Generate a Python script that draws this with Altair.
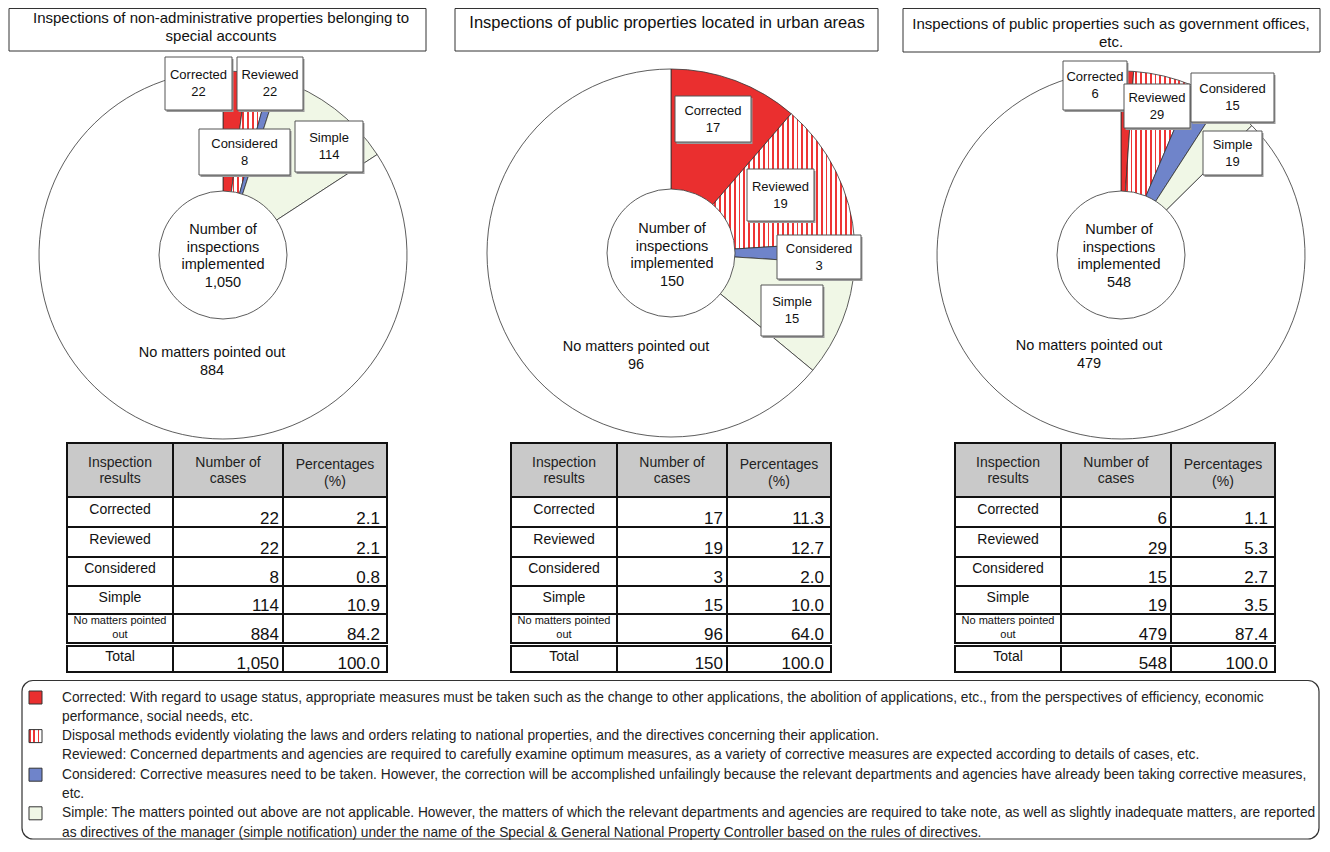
import math
import altair as alt
import pandas as pd

# ---------------- data ----------------
categories = ["Corrected", "Reviewed", "Considered", "Simple", "No matters pointed out"]
panel_titles = [
    "Inspections of non-administrative properties belonging to\nspecial accounts",
    "Inspections of public properties located in urban areas",
    "Inspections of public properties such as government offices,\netc.",
]
cases_special = [22, 22, 8, 114, 884]
cases_urban = [17, 19, 3, 15, 96]
cases_gov = [6, 29, 15, 19, 479]
pct_special = [2.1, 2.1, 0.8, 10.9, 84.2]
pct_urban = [11.3, 12.7, 2.0, 10.0, 64.0]
pct_gov = [1.1, 5.3, 2.7, 3.5, 87.4]
pct_total = 100.0
table_headers = ["Inspection\nresults", "Number of\ncases", "Percentages\n(%)"]
table_row_labels = ["Corrected", "Reviewed", "Considered", "Simple", "No matters pointed\nout", "Total"]
center_caption = "Number of\ninspections\nimplemented"
legend_lines = [
    "Corrected: With regard to usage status, appropriate measures must be taken such as the change to other applications, the abolition of applications, etc., from the perspectives of efficiency, economic",
    "performance, social needs, etc.",
    "Disposal methods evidently violating the laws and orders relating to national properties, and the directives concerning their application.",
    "Reviewed: Concerned departments and agencies are required to carefully examine optimum measures, as a variety of corrective measures are expected according to details of cases, etc.",
    "Considered: Corrective measures need to be taken. However, the correction will be accomplished unfailingly because the relevant departments and agencies have already been taking corrective measures,",
    "etc.",
    "Simple: The matters pointed out above are not applicable. However, the matters of which the relevant departments and agencies are required to take note, as well as slightly inadequate matters, are reported",
    "as directives of the manager (simple notification) under the name of the Special & General National Property Controller based on the rules of directives.",
]
legend_swatch_lines = {0: "Corrected", 2: "Reviewed", 4: "Considered", 6: "Simple"}

pie_cases = [cases_special, cases_urban, cases_gov]
pie_pcts = [pct_special, pct_urban, pct_gov]

# ---------------- layout / style ----------------
W, H = 1313, 832
XS = alt.Scale(domain=[8, 8 + W], nice=False, zero=False)
YS = alt.Scale(domain=[8, 8 + H], nice=False, zero=False, reverse=True)
FONT = "Liberation Sans, Arial, sans-serif"

PIE_CX = [223, 671, 1121]
PIE_CY = [255, 253, 255]
R_OUT = 184
R_HOLE = 64
TITLE_BOX = [(9, 426, 8.5, 51), (455, 878, 8.5, 51), (903, 1320, 8.5, 52)]
TITLE_TXT = [(221, 17.5), (667, 23), (1111, 23.5)]   # first-line positions
TITLE_SIZE = [15, 16.5, 15]
LABEL_BOX = [
    [(165, 232, 57, 110), (237, 303, 57, 110), (199, 290, 129, 175), (295, 363, 121, 172)],
    [(675, 751, 96, 142), (747, 814, 169, 221), (777, 861, 235, 279), (761, 823, 285, 336)],
    [(1063, 1127, 61, 110), (1124, 1190, 84, 128), (1191, 1274, 73, 122), (1203, 1262, 131, 175)],
]
LABEL_LH = 17
CENTER_TXT = [(223, 230), (672, 229), (1119, 230)]     # first-line positions
NOMATTER_TXT = [(212, 353), (636, 347), (1089, 346)]  # first-line positions
TABLE_LEFT = [67, 511, 955]
COL_OFF = [0, 106, 216, 320]
ROW_EDGES = [(443, 497), (497, 527), (527, 557), (557, 586), (586, 614), (614, 643), (646, 672)]

RED = "#ea2f2f"
FILL = {"Corrected": RED, "Considered": "#6f84ca", "Simple": "#f0f7e6", "No matters pointed out": "white"}


def ex(f):
    return alt.X(f + ":Q", scale=XS, axis=None)


def ey(f):
    return alt.Y(f + ":Q", scale=YS, axis=None)


def stripes(n, color="#ee3535", frac=0.38):
    stops = []
    for i in range(n):
        a, b, c = i / n, (i + frac) / n, (i + 1) / n
        stops += [
            alt.GradientStop(offset=a, color=color),
            alt.GradientStop(offset=b, color=color),
            alt.GradientStop(offset=b, color="white"),
            alt.GradientStop(offset=c, color="white"),
        ]
    return alt.LinearGradient(gradient="linear", stops=stops, x1=0, x2=1, y1=0, y2=0)


layers = []

# ---------------- title boxes ----------------
tdf = pd.DataFrame({
    "x0": [b[0] for b in TITLE_BOX], "x1": [b[1] for b in TITLE_BOX],
    "y0": [b[2] for b in TITLE_BOX], "y1": [b[3] for b in TITLE_BOX],
    "tx": [t[0] for t in TITLE_TXT], "ty": [t[1] for t in TITLE_TXT],
    "fs": TITLE_SIZE,
    "title": panel_titles,
})
layers.append(alt.Chart(tdf).mark_rect(fill="white", stroke="#333", strokeWidth=1).encode(
    x=ex("x0"), x2=alt.X2("x1:Q"), y=ey("y0"), y2=alt.Y2("y1:Q")))
layers.append(alt.Chart(tdf).mark_text(font=FONT, lineBreak="\n", lineHeight=18.5,
                                       align="center", baseline="middle", color="#111").encode(
    x=ex("tx"), y=ey("ty"), text="title:N", size=alt.Size("fs:Q", scale=None, legend=None)))

# ---------------- pies ----------------
rows = []
for p, vals in enumerate(pie_cases):
    for k, (cat, v) in enumerate(zip(categories, vals)):
        rows.append({"pie": p, "order": k, "category": cat, "value": v, "cx": PIE_CX[p], "cy": PIE_CY[p]})
pie_df = pd.DataFrame(rows)

pie_base = (
    alt.Chart(pie_df)
    .transform_joinaggregate(total="sum(value)", groupby=["pie"])
    .transform_window(cum="sum(value)", sort=[alt.SortField("order")], groupby=["pie"])
    .transform_calculate(t0="2*PI*(datum.cum-datum.value)/datum.total", t1="2*PI*datum.cum/datum.total")
)
arc_enc = dict(
    x=ex("cx"), y=ey("cy"),
    theta=alt.Theta("t0:Q", scale=None, stack=False),
    theta2=alt.Theta2("t1:Q"),
)
for cat in categories:
    if cat == "Reviewed":
        for p, vals in enumerate(pie_cases):
            ang = 2 * math.pi * (vals[0] + vals[1]) / sum(vals)
            width = R_OUT * math.sin(ang) if ang <= math.pi / 2 else R_OUT
            n = max(3, round(width / 4.8))
            layers.append(
                pie_base.transform_filter((alt.datum.category == cat) & (alt.datum.pie == p))
                .mark_arc(outerRadius=R_OUT, fill=stripes(n), stroke="#333", strokeWidth=0.8)
                .encode(**arc_enc))
    else:
        layers.append(
            pie_base.transform_filter(alt.datum.category == cat)
            .mark_arc(outerRadius=R_OUT, fill=FILL[cat], stroke="#333", strokeWidth=0.8)
            .encode(**arc_enc))

# hole + center captions
info = pd.DataFrame({
    "cx": PIE_CX, "cy": PIE_CY,
    "tx": [c[0] for c in CENTER_TXT], "ty": [c[1] for c in CENTER_TXT],
    "nx": [c[0] for c in NOMATTER_TXT], "ny": [c[1] for c in NOMATTER_TXT],
    "center": [center_caption + "\n" + f"{sum(v):,}" for v in pie_cases],
    "nomatter": [categories[4] + "\n" + f"{v[4]:,}" for v in pie_cases],
})
layers.append(alt.Chart(info).mark_arc(outerRadius=R_HOLE, innerRadius=0, theta=0, theta2=2 * math.pi,
                                       fill="white", stroke="#333", strokeWidth=0.8).encode(
    x=ex("cx"), y=ey("cy")))
layers.append(alt.Chart(info).mark_text(font=FONT, fontSize=14.5, lineBreak="\n", lineHeight=17.7,
                                        align="center", baseline="middle", color="#111").encode(
    x=ex("tx"), y=ey("ty"), text="center:N"))
layers.append(alt.Chart(info).mark_text(font=FONT, fontSize=14.5, lineBreak="\n", lineHeight=18,
                                        align="center", baseline="middle", color="#111").encode(
    x=ex("nx"), y=ey("ny"), text="nomatter:N"))

# callout boxes
lrows = []
for p, vals in enumerate(pie_cases):
    for k in range(4):
        x0, x1, y0, y1 = LABEL_BOX[p][k]
        lrows.append({"x0": x0, "x1": x1, "y0": y0, "y1": y1,
                      "sx0": x0 + 1.5, "sx1": x1 + 1.5, "sy0": y0 + 2, "sy1": y1 + 2,
                      "xc": (x0 + x1) / 2, "yc": (y0 + y1) / 2 - LABEL_LH / 2,
                      "label": f"{categories[k]}\n{vals[k]:,}"})
ldf = pd.DataFrame(lrows)
layers.append(alt.Chart(ldf).mark_rect(fill="#9a9a9a").encode(
    x=ex("sx0"), x2=alt.X2("sx1:Q"), y=ey("sy0"), y2=alt.Y2("sy1:Q")))
layers.append(alt.Chart(ldf).mark_rect(fill="white", stroke="#555", strokeWidth=1).encode(
    x=ex("x0"), x2=alt.X2("x1:Q"), y=ey("y0"), y2=alt.Y2("y1:Q")))
layers.append(alt.Chart(ldf).mark_text(font=FONT, fontSize=13, lineBreak="\n", lineHeight=LABEL_LH,
                                       align="center", baseline="middle", color="#111").encode(
    x=ex("xc"), y=ey("yc"), text="label:N"))

# ---------------- tables ----------------
cells, htxt, rtxt, rsmall, ntxt = [], [], [], [], []
for p, (vals, pcts) in enumerate(zip(pie_cases, pie_pcts)):
    left = TABLE_LEFT[p]
    counts = vals + [sum(vals)]
    percents = pcts + [pct_total]
    for r, (ya, yb) in enumerate(ROW_EDGES):
        for c in range(3):
            xa, xb = left + COL_OFF[c], left + COL_OFF[c + 1]
            cells.append({"x0": xa, "x1": xb, "y0": ya, "y1": yb, "kind": "header" if r == 0 else "body"})
        if r == 0:
            for c in range(3):
                htxt.append({"x": left + (COL_OFF[c] + COL_OFF[c + 1]) / 2,
                             "y": (ya + yb) / 2 - 7.5 + (2.5 if c == 2 else 0),
                             "t": table_headers[c]})
        else:
            lab = table_row_labels[r - 1]
            if "\n" in lab:
                rsmall.append({"x": left + COL_OFF[1] / 2, "y": (ya + yb) / 2 - 7.5, "t": lab})
            else:
                rtxt.append({"x": left + COL_OFF[1] / 2, "y": (ya + yb) / 2 - 2.5, "t": lab})
            ntxt.append({"x": left + COL_OFF[2] - 4, "y": yb - 3.5, "t": f"{counts[r - 1]:,}"})
            ntxt.append({"x": left + COL_OFF[3] - 7, "y": yb - 3.5, "t": f"{percents[r - 1]:.1f}"})

cdf = pd.DataFrame(cells)
layers.append(alt.Chart(cdf).mark_rect(stroke="#111", strokeWidth=2).encode(
    x=ex("x0"), x2=alt.X2("x1:Q"), y=ey("y0"), y2=alt.Y2("y1:Q"),
    fill=alt.Fill("kind:N", scale=alt.Scale(domain=["header", "body"], range=["#c9c9c9", "white"]), legend=None)))
layers.append(alt.Chart(pd.DataFrame(htxt)).mark_text(font=FONT, fontSize=14, lineBreak="\n", lineHeight=16.5,
                                                      align="center", baseline="middle", color="#222").encode(
    x=ex("x"), y=ey("y"), text="t:N"))
layers.append(alt.Chart(pd.DataFrame(rtxt)).mark_text(font=FONT, fontSize=14, align="center",
                                                      baseline="middle", color="#111").encode(
    x=ex("x"), y=ey("y"), text="t:N"))
layers.append(alt.Chart(pd.DataFrame(rsmall)).mark_text(font=FONT, fontSize=11, lineBreak="\n", lineHeight=14,
                                                        align="center", baseline="middle", color="#111").encode(
    x=ex("x"), y=ey("y"), text="t:N"))
layers.append(alt.Chart(pd.DataFrame(ntxt)).mark_text(font=FONT, fontSize=17, align="right",
                                                      baseline="alphabetic", color="#111").encode(
    x=ex("x"), y=ey("y"), text="t:N"))

# ---------------- legend ----------------
LEG_TOP, LEG_BOT, LEG_L, LEG_R = 680.5, 839, 22, 1319
line_y = [697.5 + 19.3 * i for i in range(len(legend_lines))]
legbox = pd.DataFrame({"x0": [LEG_L], "x1": [LEG_R], "y0": [LEG_TOP], "y1": [LEG_BOT]})
layers.append(alt.Chart(legbox).mark_rect(fill="white", stroke="#333", strokeWidth=1.2, cornerRadius=11).encode(
    x=ex("x0"), x2=alt.X2("x1:Q"), y=ey("y0"), y2=alt.Y2("y1:Q")))
for i, cat in legend_swatch_lines.items():
    sw = pd.DataFrame({"x0": [29], "x1": [42], "y0": [line_y[i] - 6.5], "y1": [line_y[i] + 6.5]})
    fill = stripes(3) if cat == "Reviewed" else FILL[cat]
    layers.append(alt.Chart(sw).mark_rect(fill=fill, stroke="#333", strokeWidth=1).encode(
        x=ex("x0"), x2=alt.X2("x1:Q"), y=ey("y0"), y2=alt.Y2("y1:Q")))
legdf = pd.DataFrame({"x": [62] * len(legend_lines), "y": line_y, "t": legend_lines})
layers.append(alt.Chart(legdf).mark_text(font=FONT, fontSize=13.75, align="left", baseline="middle",
                                         color="#222").encode(x=ex("x"), y=ey("y"), text="t:N"))

chart = (
    alt.layer(*layers)
    .properties(width=W, height=H, padding=0, background="white",
                autosize=alt.AutoSizeParams(type="none"))
    .configure_view(stroke=None)
)
chart.save("out.html", embed_options={"renderer": "svg", "actions": False})
